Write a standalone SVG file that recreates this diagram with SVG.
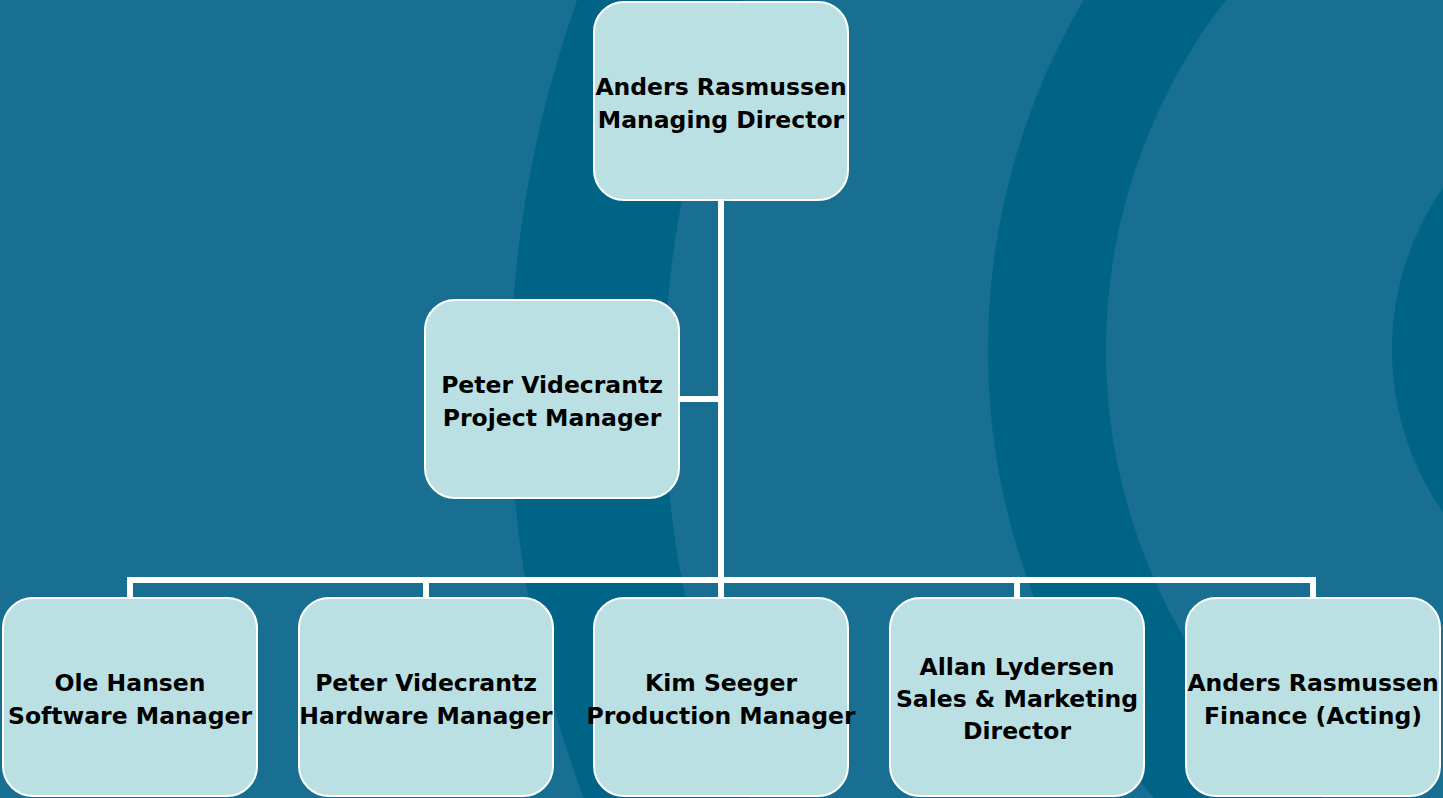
<svg xmlns="http://www.w3.org/2000/svg" width="1443" height="798" viewBox="0 0 1443 798">
  <style>
    .box { fill: #bbe0e3; stroke: #ffffff; stroke-width: 2; }
    .lbl { font-family: "DejaVu Sans", "Liberation Sans", sans-serif; font-weight: bold; font-size: 23.5px; fill: #000000; text-anchor: middle; }
    .conn { stroke: #ffffff; stroke-width: 6; fill: none; stroke-linecap: square; }
    .band { fill: none; stroke: #006487; }
  </style>
  <g id="background">
    <rect x="0" y="0" width="1443" height="798" fill="#186f91"/>
    <circle class="band" cx="1676" cy="390" r="1089" stroke-width="154"/>
    <circle class="band" cx="1676" cy="350" r="629" stroke-width="118"/>
    <circle cx="1676" cy="350" r="284" fill="#006487"/>
  </g>
  <g id="connectors">
    <line class="conn" x1="721" y1="202" x2="721" y2="580"/>
    <line class="conn" x1="681" y1="399" x2="721" y2="399"/>
    <line class="conn" x1="130" y1="580" x2="1313" y2="580"/>
    <line class="conn" x1="130" y1="580" x2="130" y2="596"/>
    <line class="conn" x1="426" y1="580" x2="426" y2="596"/>
    <line class="conn" x1="721" y1="580" x2="721" y2="596"/>
    <line class="conn" x1="1017" y1="580" x2="1017" y2="596"/>
    <line class="conn" x1="1313" y1="580" x2="1313" y2="596"/>
  </g>
  <g id="node-md">
    <rect class="box" x="594" y="2" width="254" height="198" rx="30" ry="30"/>
    <text class="lbl" x="721" y="95">Anders Rasmussen</text>
    <text class="lbl" x="721" y="128">Managing Director</text>
  </g>
  <g id="node-pm">
    <rect class="box" x="425" y="300" width="254" height="198" rx="30" ry="30"/>
    <text class="lbl" x="552" y="393">Peter Videcrantz</text>
    <text class="lbl" x="552" y="426">Project Manager</text>
  </g>
  <g id="node-sw">
    <rect class="box" x="3" y="598" width="254" height="198" rx="30" ry="30"/>
    <text class="lbl" x="130" y="691">Ole Hansen</text>
    <text class="lbl" x="130" y="724">Software Manager</text>
  </g>
  <g id="node-hw">
    <rect class="box" x="299" y="598" width="254" height="198" rx="30" ry="30"/>
    <text class="lbl" x="426" y="691">Peter Videcrantz</text>
    <text class="lbl" x="426" y="724">Hardware Manager</text>
  </g>
  <g id="node-prod">
    <rect class="box" x="594" y="598" width="254" height="198" rx="30" ry="30"/>
    <text class="lbl" x="721" y="691">Kim Seeger</text>
    <text class="lbl" x="721" y="724">Production Manager</text>
  </g>
  <g id="node-sales">
    <rect class="box" x="890" y="598" width="254" height="198" rx="30" ry="30"/>
    <text class="lbl" x="1017" y="675">Allan Lydersen</text>
    <text class="lbl" x="1017" y="707">Sales &amp; Marketing</text>
    <text class="lbl" x="1017" y="739">Director</text>
  </g>
  <g id="node-fin">
    <rect class="box" x="1186" y="598" width="254" height="198" rx="30" ry="30"/>
    <text class="lbl" x="1313" y="691">Anders Rasmussen</text>
    <text class="lbl" x="1313" y="724">Finance (Acting)</text>
  </g>
</svg>
